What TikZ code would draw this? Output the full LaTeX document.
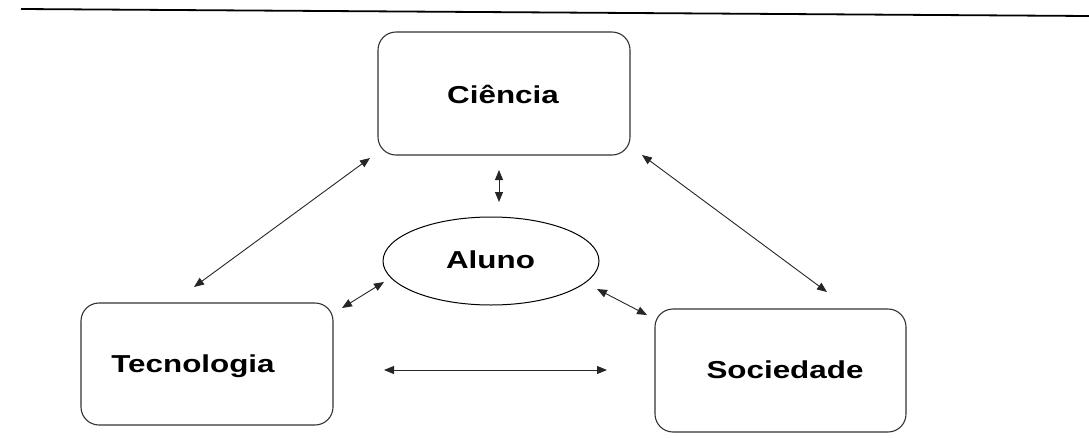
\documentclass[tikz,border=0pt]{standalone}
\usepackage{fontspec}
\setmainfont{Liberation Sans}
\newfontfamily\lblfont[FakeStretch=1.28]{Liberation Sans}
\usetikzlibrary{arrows.meta,shapes.geometric}
\tikzset{
  box/.style={draw=black!80, line width=1.1pt, rounded corners=18pt, inner sep=0pt},
  oval/.style={draw=black, line width=1pt, ellipse, inner sep=0pt},
  lbl/.style={font=\lblfont\bfseries\fontsize{24.5}{29}\selectfont, inner sep=0pt, text height=17.5pt, text depth=0pt, anchor=center},
  dblarrow/.style={draw=black!85, line width=0.9pt, {Triangle[length=10pt,width=8pt]}-{Triangle[length=10pt,width=8pt]}},
  rule/.style={draw=black, line width=1.8pt}
}
\begin{document}
\begin{tikzpicture}[x=1pt,y=-1pt]
\useasboundingbox (0,0) rectangle (1089,437);
% header rule
\coordinate (L1) at (21,9);
\coordinate (L2) at (1089,16);
\draw[rule] (L1) -- (L2);
% boxes
\node[box, minimum width=252pt, minimum height=123pt] (cie) at (504,93.5) {};
\node[lbl] (cietxt) at (503,95) {Ciência};
\node[box, minimum width=252pt, minimum height=122pt] (tec) at (207,364) {};
\node[lbl] (tectxt) at (193,363.3) {Tecnologia};
\node[box, minimum width=251pt, minimum height=123pt] (soc) at (780.5,370.5) {};
\node[lbl] (soctxt) at (785,370) {Sociedade};
\node[oval, minimum width=216pt, minimum height=88pt] (alu) at (491,261) {};
\node[lbl] (alutxt) at (490.5,260) {Aluno};
% arrow end points
\coordinate (a1s) at (370,158);  \coordinate (a1e) at (194,287);
\coordinate (a2s) at (642,155);  \coordinate (a2e) at (827,292);
\coordinate (a3s) at (499,170);  \coordinate (a3e) at (499,202);
\coordinate (a4s) at (384,282);  \coordinate (a4e) at (342,308);
\coordinate (a5s) at (597,289);  \coordinate (a5e) at (647,315);
\coordinate (a6s) at (384,370);  \coordinate (a6e) at (607,370);
\draw[dblarrow] (a1s) -- (a1e);
\draw[dblarrow] (a2s) -- (a2e);
\draw[dblarrow] (a3s) -- (a3e);
\draw[dblarrow] (a4s) -- (a4e);
\draw[dblarrow] (a5s) -- (a5e);
\draw[dblarrow] (a6s) -- (a6e);
\end{tikzpicture}
\end{document}
